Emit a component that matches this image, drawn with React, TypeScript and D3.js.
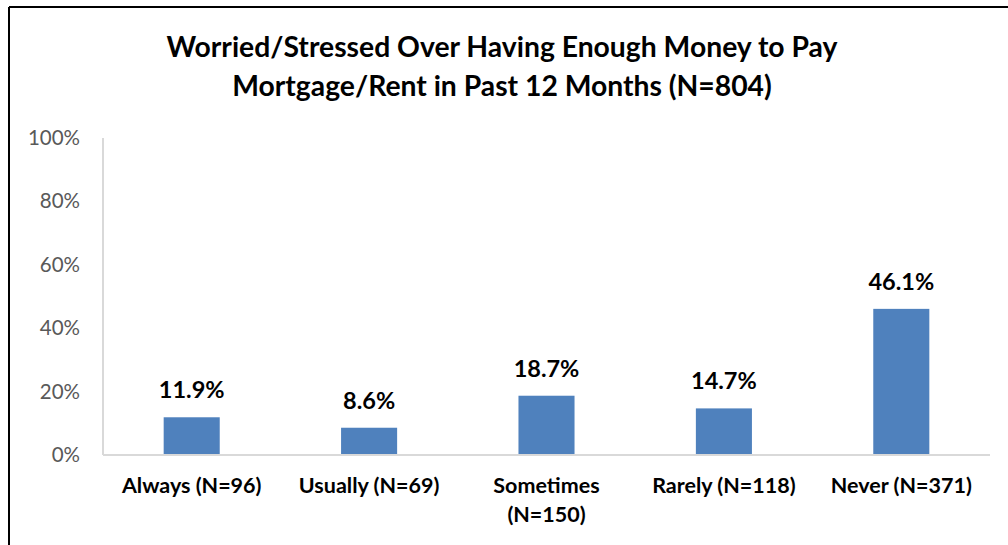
import * as d3 from "d3"

const categories = ["Always (N=96)", "Usually (N=69)", "Sometimes (N=150)", "Rarely (N=118)", "Never (N=371)"]
const categoryLines = [["Always (N=96)"], ["Usually (N=69)"], ["Sometimes", "(N=150)"], ["Rarely (N=118)"], ["Never (N=371)"]]
const values = [11.9, 8.6, 18.7, 14.7, 46.1]
const yTicks = [0, 20, 40, 60, 80, 100]
const titleLines = ["Worried/Stressed Over Having Enough Money to Pay", "Mortgage/Rent in Past 12 Months (N=804)"]

const font = "Lato, 'Open Sans', sans-serif"

export default function App() {
    const width = 1008
    const height = 545
    const plot = { left: 103, right: 990, top: 138, bottom: 455 }

    const x = d3.scaleBand<string>().domain(categories).range([plot.left, plot.right]).padding(0)
    const y = d3.scaleLinear().domain([0, 100]).range([plot.bottom, plot.top])
    const barW = x.bandwidth() * 0.316

    return (
        <svg width={width} height={height} style={{ position: "absolute", left: 0, top: 0, background: "white" }}>
            {/* chart frame */}
            <line x1={9} x2={width} y1={7} y2={7} stroke="#000" strokeWidth={2} />
            <line x1={9} x2={9} y1={7} y2={height} stroke="#000" strokeWidth={2} />

            {titleLines.map((t, i) => (
                <text key={t} x={502} y={57 + i * 39} textAnchor="middle" fontFamily={font}
                    fontWeight="bold" fontSize={28.3} fill="#000">{t}</text>
            ))}

            {yTicks.map((t) => (
                <text key={t} x={80} y={y(t) + 7} textAnchor="end" fontFamily={font}
                    fontSize={20.5} fill="#595959">{t}%</text>
            ))}

            <line x1={plot.left} x2={plot.left} y1={plot.top} y2={plot.bottom} stroke="#d9d9d9" strokeWidth={2} />
            <line x1={plot.left} x2={plot.right} y1={plot.bottom} y2={plot.bottom} stroke="#d9d9d9" strokeWidth={2} />

            {categories.map((c, i) => {
                const cx = (x(c) ?? 0) + x.bandwidth() / 2
                return (
                    <g key={c}>
                        <rect x={cx - barW / 2} y={y(values[i])} width={barW} height={plot.bottom - y(values[i]) - 1} fill="#4f81bd" />
                        <text x={cx} y={y(values[i]) - 19} textAnchor="middle" fontFamily={font}
                            fontWeight="bold" fontSize={23.5} fill="#000">{values[i].toFixed(1)}%</text>
                        {categoryLines[i].map((l, j) => (
                            <text key={l} x={cx} y={493 + j * 29} textAnchor="middle" fontFamily={font}
                                fontWeight="bold" fontSize={21.5} fill="#000">{l}</text>
                        ))}
                    </g>
                )
            })}
        </svg>
    )
}
